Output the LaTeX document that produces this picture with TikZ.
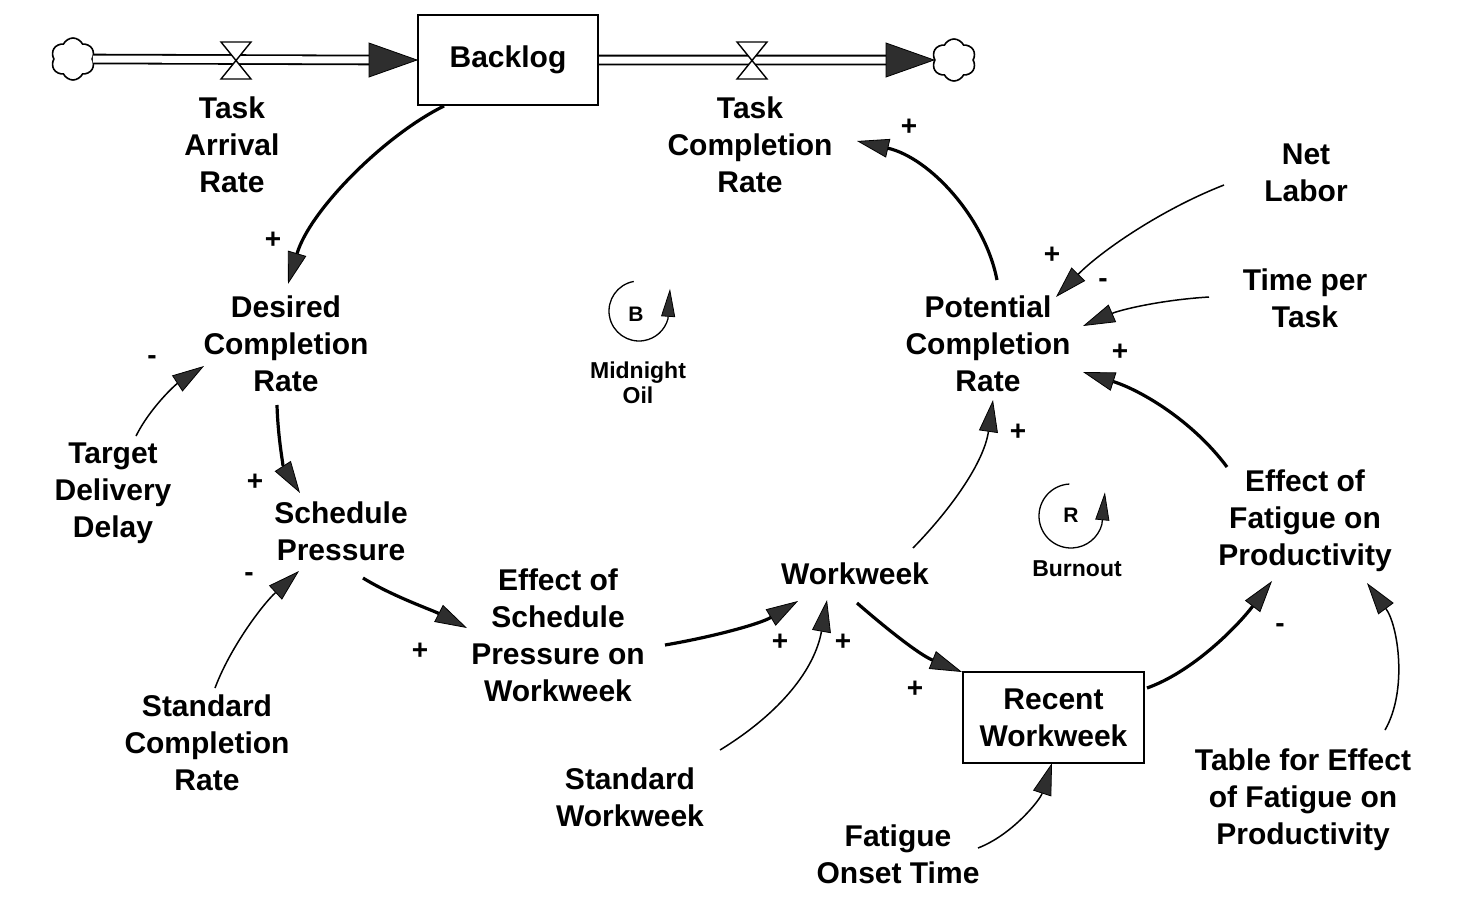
\documentclass[tikz,border=0pt]{standalone}
\usepackage{fontspec}
\setmainfont{Liberation Sans}
\usetikzlibrary{arrows.meta,shapes.symbols,calc}
\begin{document}
\begin{tikzpicture}[x=1pt,y=-1pt,
  var/.style={font=\fontsize{30}{37}\selectfont\bfseries, align=center, inner sep=0pt},
  stock/.style={var, draw, line width=2pt, minimum width=180pt, minimum height=90pt},
  sgn/.style={font=\fontsize{28}{28}\selectfont\bfseries, inner sep=0pt},
  loopname/.style={font=\fontsize{23}{25}\selectfont\bfseries, align=center, inner sep=0pt},
  looplet/.style={font=\fontsize{21}{21}\selectfont\bfseries, inner sep=0pt},
  tip/.style={-{Triangle[length=32pt,width=19pt,line width=0.8pt,fill=black!82]}},
  lk/.style={draw, line width=3.2pt, tip},
  ln/.style={draw, line width=1.5pt, tip},
  looptip/.style={draw, line width=1.3pt, -{Triangle[length=28pt,width=14pt,line width=0.8pt,fill=black!82]}},
  pipe/.style={draw, line width=1.8pt, double distance=7pt},
  cloudy/.style={cloud, cloud puffs=6, cloud puff arc=130, aspect=1.05, draw, line width=1.6pt, minimum width=44pt, minimum height=42pt, inner sep=0pt, fill=white},
  valvebody/.style={draw, line width=1.4pt, fill=white},
  pipehead/.style={draw, line width=0.8pt, fill=black!82}
]
\useasboundingbox[fill=white] (0,0) rectangle (1476,916);

% ---------- stocks ----------
\node[stock] (bl) at (508,60) {Backlog};
\node[stock, minimum width=181pt, minimum height=91pt] (rw) at (1053.5,717.5) {Recent\\Workweek};

% ---------- clouds ----------
\node[cloudy, shape border rotate=10] (c1) at (73,59) {};
\node[cloudy, shape border rotate=-15] (c2) at (954,60) {};

% ---------- flows ----------
\coordinate (v1) at (236,60);
\coordinate (v2) at (752,60);
\draw[pipe] (c1.east) -- ($(bl.west)+(-44,0)$);
\draw[pipe] (bl.east) -- ($(c2.west)+(-44,0)$);
\draw[pipehead] ($(bl.west)+(-48,-17)$) -- (bl.west) -- ($(bl.west)+(-48,17)$) -- cycle;
\draw[pipehead] ($(c2.west)+(-48,-17)$) -- (c2.west) -- ($(c2.west)+(-48,17)$) -- cycle;
\draw[valvebody] ($(v1)+(-15,-18)$) -- ($(v1)+(15,-18)$) -- ($(v1)+(-15,19)$) -- ($(v1)+(15,19)$) -- cycle;
\draw[valvebody] ($(v2)+(-15,-18)$) -- ($(v2)+(15,-18)$) -- ($(v2)+(-15,19)$) -- ($(v2)+(15,19)$) -- cycle;

% ---------- variables ----------
\node[var] (tar) at (232,145) {Task\\Arrival\\Rate};
\node[var] (tcr) at (750,145) {Task\\Completion\\Rate};
\node[var] (dcr) at (286,344) {Desired\\Completion\\Rate};
\node[var] (pcr) at (988,344) {Potential\\Completion\\Rate};
\node[var] (nl) at (1306,173) {Net\\Labor};
\node[var] (tpt) at (1305,298) {Time per\\Task};
\node[var] (tdd) at (113,493) {Target\\Delivery\\Delay};
\node[var] (sp) at (341,531) {Schedule\\Pressure};
\node[var] (esp) at (558,635) {Effect of\\Schedule\\Pressure on\\Workweek};
\node[var] (ww) at (855,574) {Workweek};
\node[var] (efp) at (1305,521) {Effect of\\Fatigue on\\Productivity};
\node[var] (scr) at (207,743) {Standard\\Completion\\Rate};
\node[var] (sw) at (630,797) {Standard\\Workweek};
\node[var] (fot) at (898,854) {Fatigue\\Onset Time};
\node[var] (tef) at (1303,800) {Table for Effect\\of Fatigue on\\Productivity};

% ---------- connector end points ----------
\coordinate (bl-o) at (444,106);   \coordinate (dcr-i1) at (288,284);
\coordinate (tdd-o) at (136,436);  \coordinate (dcr-i2) at (204,366);
\coordinate (dcr-o) at (277,405);  \coordinate (sp-i1) at (300,493);
\coordinate (scr-o) at (215,688);  \coordinate (sp-i2) at (299,571);
\coordinate (sp-o) at (363,578);   \coordinate (esp-i) at (467,628);
\coordinate (esp-o) at (665,645);  \coordinate (ww-i1) at (798,601);
\coordinate (sw-o) at (720,750);   \coordinate (ww-i2) at (827,600);
\coordinate (ww-o1) at (857,603);  \coordinate (rw-i1) at (962,672);
\coordinate (ww-o2) at (913,548);  \coordinate (pcr-i1) at (993,400);
\coordinate (rw-o) at (1147,688);  \coordinate (efp-i1) at (1272,581);
\coordinate (tef-o) at (1385,730); \coordinate (efp-i2) at (1367,583);
\coordinate (fot-o) at (978,848);  \coordinate (rw-i2) at (1052,763);
\coordinate (efp-o) at (1227,467); \coordinate (pcr-i2) at (1083,372);
\coordinate (tpt-o) at (1209,297); \coordinate (pcr-i3) at (1083,326);
\coordinate (nl-o) at (1224,185);  \coordinate (pcr-i4) at (1056,297);
\coordinate (pcr-o) at (997,280);  \coordinate (tcr-i) at (857,141);

% ---------- connectors ----------
\path[lk] (bl-o) .. controls (385,135) and (310,210) .. (dcr-i1);
\path[ln] (tdd-o) .. controls (150,408) and (175,385) .. (dcr-i2);
\path[lk] (dcr-o) .. controls (278,440) and (284,468) .. (sp-i1);
\path[ln] (scr-o) .. controls (230,648) and (262,605) .. (sp-i2);
\path[lk] (sp-o) .. controls (392,596) and (432,610) .. (esp-i);
\path[lk] (esp-o) .. controls (712,637) and (760,624) .. (ww-i1);
\path[ln] (sw-o) .. controls (782,712) and (815,668) .. (ww-i2);
\path[lk] (ww-o1) .. controls (888,630) and (920,655) .. (rw-i1);
\path[ln] (ww-o2) .. controls (952,508) and (984,462) .. (pcr-i1);
\path[lk] (rw-o) .. controls (1192,672) and (1236,628) .. (efp-i1);
\path[ln] (tef-o) .. controls (1408,690) and (1398,625) .. (efp-i2);
\path[ln] (fot-o) .. controls (1012,835) and (1040,800) .. (rw-i2);
\path[lk] (efp-o) .. controls (1192,420) and (1140,390) .. (pcr-i2);
\path[ln] (tpt-o) .. controls (1160,300) and (1120,310) .. (pcr-i3);
\path[ln] (nl-o) .. controls (1160,210) and (1100,252) .. (pcr-i4);
\path[lk] (pcr-o) .. controls (985,218) and (930,158) .. (tcr-i);

% ---------- polarities ----------
\node[sgn] (s1) at (273,240) {+};
\node[sgn] (s2) at (152,360) {-};
\node[sgn] (s3) at (255,482) {+};
\node[sgn] (s4) at (249,577) {-};
\node[sgn] (s5) at (420,651) {+};
\node[sgn] (s6) at (780,642) {+};
\node[sgn] (s7) at (843,642) {+};
\node[sgn] (s8) at (915,689) {+};
\node[sgn] (s9) at (1018,432) {+};
\node[sgn] (s10) at (1280,628) {-};
\node[sgn] (s11) at (1120,352) {+};
\node[sgn] (s12) at (1103,283) {-};
\node[sgn] (s13) at (1052,255) {+};
\node[sgn] (s14) at (909,127) {+};

% ---------- loop markers ----------
\coordinate (lb) at (639,311);
\draw[line width=1.3pt] ($(lb)+(-100:30)$) arc[start angle=-100, end angle=-345, radius=30] coordinate (lb-e);
\path[looptip] (lb-e) -- ++(2,-30);
\node[looplet] (lbl) at (636,314) {B};
\node[loopname] (lbn) at (638,383) {Midnight\\Oil};

\coordinate (lr) at (1071,516);
\draw[line width=1.3pt] ($(lr)+(-93:32)$) arc[start angle=-93, end angle=-345, radius=32] coordinate (lr-e);
\path[looptip] (lr-e) -- ++(3,-32);
\node[looplet] (lrl) at (1071,515) {R};
\node[loopname] (lrn) at (1077,569) {Burnout};
\end{tikzpicture}
\end{document}
